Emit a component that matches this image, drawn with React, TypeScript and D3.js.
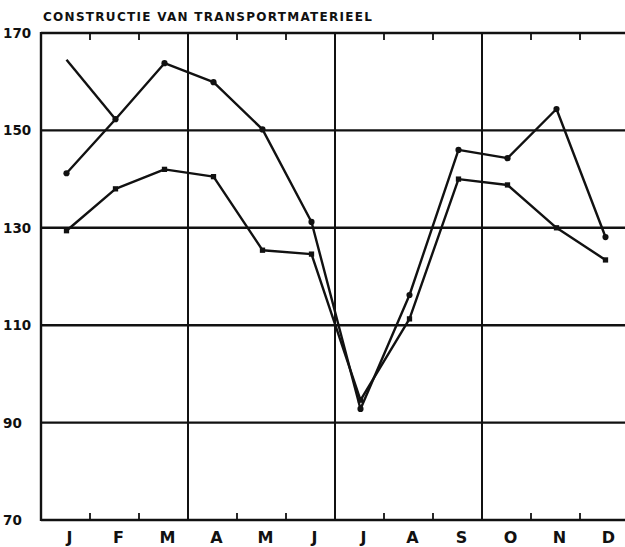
import React, { useEffect, useRef } from "react";
import * as d3 from "d3";

const title = "CONSTRUCTIE VAN TRANSPORTMATERIEEL";
const months = ["J", "F", "M", "A", "M", "J", "J", "A", "S", "O", "N", "D"];
const yTicks = [70, 90, 110, 130, 150, 170];
// upper line (round markers)
const seriesA = [141.2, 152.3, 163.8, 159.9, 150.2, 131.2, 92.8, 116.2, 146, 144.3, 154.4, 128.1];
// lower line (square markers)
const seriesB = [129.4, 138, 142, 140.5, 125.4, 124.6, 94.6, 111.3, 140, 138.8, 130, 123.4];
// short segment, only J and F
const seriesC = [164.5, 152.3];

export default function App() {
  const ref = useRef<SVGSVGElement>(null);

  useEffect(() => {
    const width = 625;
    const height = 547;
    const margin = { top: 33, bottom: 27, left: 41, right: -4 };
    const ink = "#111";

    const svg = d3.select(ref.current);
    svg.selectAll("*").remove();

    const idx = months.map((_, i) => i);
    const x = d3.scaleBand<number>()
      .domain(idx)
      .range([margin.left, width - margin.right])
      .padding(0);
    const cx = (i: number) => (x(i) as number) + x.bandwidth() / 2 + 1;

    const y = d3.scaleLinear()
      .domain([70, 170])
      .range([height - margin.bottom, margin.top]);

    const g = svg.append("g");

    // horizontal grid lines (incl. top & bottom frame)
    g.selectAll("line.h")
      .data(yTicks)
      .enter()
      .append("line")
      .attr("x1", margin.left)
      .attr("x2", width)
      .attr("y1", (d) => y(d))
      .attr("y2", (d) => y(d))
      .attr("stroke", ink)
      .attr("stroke-width", 2.4);

    // left axis
    g.append("line")
      .attr("x1", margin.left)
      .attr("x2", margin.left)
      .attr("y1", y(170) - 1)
      .attr("y2", y(70) + 1)
      .attr("stroke", ink)
      .attr("stroke-width", 2.4);

    // quarter lines
    const quarters = [3, 6, 9];
    g.selectAll("line.q")
      .data(quarters)
      .enter()
      .append("line")
      .attr("x1", (d) => x(d) as number)
      .attr("x2", (d) => x(d) as number)
      .attr("y1", y(170))
      .attr("y2", y(70))
      .attr("stroke", ink)
      .attr("stroke-width", 2);

    // month ticks top and bottom
    const minor = idx.filter((i) => i > 0 && i % 3 !== 0);
    g.selectAll("line.tt")
      .data(minor)
      .enter()
      .append("line")
      .attr("x1", (d) => x(d) as number)
      .attr("x2", (d) => x(d) as number)
      .attr("y1", y(170))
      .attr("y2", y(170) + 7)
      .attr("stroke", ink)
      .attr("stroke-width", 1.8);
    g.selectAll("line.tb")
      .data(minor)
      .enter()
      .append("line")
      .attr("x1", (d) => x(d) as number)
      .attr("x2", (d) => x(d) as number)
      .attr("y1", y(70))
      .attr("y2", y(70) - 7)
      .attr("stroke", ink)
      .attr("stroke-width", 1.8);

    // y labels
    g.selectAll("text.yl")
      .data(yTicks)
      .enter()
      .append("text")
      .attr("x", 3)
      .attr("y", (d) => y(d) + 5)
      .attr("font-family", "DejaVu Sans")
      .attr("font-weight", "bold")
      .attr("font-size", 13.5)
      .attr("fill", ink)
      .text((d) => String(d));

    // x labels
    g.selectAll("text.xl")
      .data(idx)
      .enter()
      .append("text")
      .attr("x", (d) => cx(d) + 3)
      .attr("y", 543)
      .attr("text-anchor", "middle")
      .attr("font-family", "DejaVu Sans")
      .attr("font-weight", "bold")
      .attr("font-size", 16)
      .attr("fill", ink)
      .text((d) => months[d]);

    // title
    svg.append("text")
      .attr("x", 43)
      .attr("y", 21)
      .attr("font-family", "DejaVu Sans")
      .attr("font-weight", "bold")
      .attr("font-size", 12)
      .attr("textLength", 329)
      .attr("lengthAdjust", "spacing")
      .attr("fill", ink)
      .text(title);

    const line = d3.line<number>()
      .x((_, i) => cx(i))
      .y((d) => y(d));

    [seriesA, seriesB, seriesC].forEach((s) => {
      g.append("path")
        .datum(s)
        .attr("d", line)
        .attr("fill", "none")
        .attr("stroke", ink)
        .attr("stroke-width", 2.4)
        .attr("stroke-linejoin", "round");
    });

    // markers
    const dot = d3.symbol().type(d3.symbolCircle).size(30);
    const square = d3.symbol().type(d3.symbolSquare).size(28);
    g.selectAll("path.ma")
      .data(seriesA)
      .enter()
      .append("path")
      .attr("d", dot)
      .attr("transform", (d, i) => `translate(${cx(i)},${y(d)})`)
      .attr("fill", ink);
    g.selectAll("path.mb")
      .data(seriesB)
      .enter()
      .append("path")
      .attr("d", square)
      .attr("transform", (d, i) => `translate(${cx(i)},${y(d)})`)
      .attr("fill", ink);
  }, []);

  return (
    <svg
      ref={ref}
      width={625}
      height={547}
      style={{ position: "absolute", left: 0, top: 0, background: "#fff" }}
    />
  );
}
